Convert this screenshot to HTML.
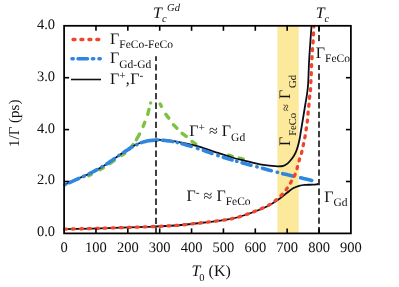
<!DOCTYPE html>
<html><head><meta charset="utf-8"><title>chart</title>
<style>
html,body{margin:0;padding:0;background:#fff;}
body{width:399px;height:287px;overflow:hidden;}
svg{display:block;will-change:transform;}
text{font-family:"Liberation Serif",serif;fill:#111;text-rendering:geometricPrecision;}
.ax text{font-size:14.5px;}
.lab{font-size:16px;}
.sub{font-size:11.5px;}
.ss{font-size:10.5px;}
</style></head><body>
<svg width="399" height="287" viewBox="0 0 399 287">
<rect x="0" y="0" width="399" height="287" fill="#fff"/>
<rect x="277.4" y="25.8" width="21.3" height="207.6" fill="#fce99c"/>
<!-- curves -->
<g fill="none" stroke-linecap="butt" stroke-linejoin="round">
<path d="M150.6,103 l0.01,0 M148.98,109.45 L147.72,114.35 M144.76,122.38 L143.14,126.42 M139.65,133.97 L136.35,139.73 M133.13,144.52 L129.07,149.48 M160.14,103.98 L161.46,106.32 M165.84,114.35 L168.76,118.15 M173.44,124.86 L176.96,128.14 M182.15,133.33 L186.25,136.47 M192.02,141.53 L195.88,144.07 M88.70,175.69 L90.10,175.00 L91.30,174.39 M100.00,169.70 L101.56,168.80 L102.77,168.09 L103.40,167.72 M109.80,163.63 L111.00,162.79 L112.01,162.08 L112.99,161.39 L114.30,160.45 M121.70,155.37 L122.86,154.59 L124.19,153.71 L124.80,153.32 M228.70,155.17 L230.24,155.64 L231.49,156.02 L232.30,156.26 M239.20,158.09 L240.66,158.45 L242.23,158.83 L243.30,159.08 " stroke="#7fc241" stroke-width="3.4" stroke-linecap="round"/>
<path d="M64.10,184.90 C65.92,184.08 70.67,181.95 75.00,180.00 C79.33,178.05 85.08,175.72 90.10,173.20 C95.12,170.68 100.60,167.65 105.10,164.90 C109.60,162.15 113.68,159.02 117.10,156.70 C120.52,154.38 122.68,152.88 125.60,151.00 C128.52,149.12 131.35,147.03 134.60,145.40 C137.85,143.77 141.53,142.13 145.10,141.20 C148.67,140.27 152.68,139.98 156.00,139.80 C159.32,139.62 162.00,139.87 165.00,140.10 C168.00,140.33 171.00,140.72 174.00,141.20 C177.00,141.68 180.33,142.47 183.00,143.00 C185.67,143.53 187.17,143.77 190.00,144.40 C192.83,145.03 195.67,145.48 200.00,146.80 C204.33,148.12 210.65,150.52 216.00,152.30 C221.35,154.08 227.27,156.08 232.10,157.50 C236.93,158.92 240.35,159.65 245.00,160.80 C249.65,161.95 255.83,163.60 260.00,164.40 C264.17,165.20 267.08,165.28 270.00,165.60 C272.92,165.92 275.25,166.27 277.50,166.30 C279.75,166.33 281.75,166.33 283.50,165.80 C285.25,165.27 286.48,164.43 288.00,163.10 C289.52,161.77 291.33,159.55 292.60,157.80 C293.87,156.05 294.73,154.48 295.60,152.60 C296.47,150.72 297.13,148.77 297.80,146.50 C298.47,144.23 299.05,141.75 299.60,139.00 C300.15,136.25 300.23,135.25 301.10,130.00 C301.97,124.75 303.68,114.50 304.80,107.50 C305.92,100.50 307.10,95.42 307.80,88.00 C308.50,80.58 308.63,69.83 309.00,63.00 C309.37,56.17 309.58,53.12 310.00,47.00 C310.42,40.88 311.25,29.75 311.50,26.30" stroke="#0d0d1a" stroke-width="1.8"/>
<path d="M64.10,229.20 C70.08,229.05 86.35,228.70 100.00,228.30 C113.65,227.90 133.50,227.27 146.00,226.80 C158.50,226.33 166.00,226.13 175.00,225.50 C184.00,224.87 192.50,223.82 200.00,223.00 C207.50,222.18 214.58,221.33 220.00,220.60 C225.42,219.87 228.33,219.53 232.50,218.60 C236.67,217.67 240.83,216.35 245.00,215.00 C249.17,213.65 253.37,212.17 257.50,210.50 C261.63,208.83 266.13,206.95 269.80,205.00 C273.47,203.05 276.62,200.83 279.50,198.80 C282.38,196.77 284.83,194.55 287.10,192.80 C289.37,191.05 291.10,189.47 293.10,188.30 C295.10,187.13 297.10,186.37 299.10,185.80 C301.10,185.23 302.85,185.08 305.10,184.90 C307.35,184.72 310.70,184.78 312.60,184.70 C314.50,184.62 315.50,184.57 316.50,184.40 C317.50,184.23 318.25,183.82 318.60,183.70" stroke="#0d0d1a" stroke-width="1.8"/>
<path d="M65.00,184.60 L65.10,184.55 M69.12,182.74 L70.65,182.06 L72.27,181.33 L73.91,180.59 L75.55,179.85 L76.69,179.35 L77.87,178.83 L78.68,178.48 M83.42,176.42 L84.28,176.03 M89.02,173.83 L90.10,173.30 L91.36,172.66 L92.64,172.00 L93.93,171.33 L95.22,170.64 L96.51,169.94 L97.18,169.58 M101.92,166.90 L102.28,166.69 M106.72,163.98 L107.86,163.24 L108.92,162.53 L109.97,161.81 L111.00,161.09 L112.01,160.38 L112.99,159.69 L114.28,158.77 M118.92,155.56 L118.98,155.52 M123.62,152.39 L124.89,151.56 L125.96,150.87 L127.05,150.16 L128.14,149.44 L129.24,148.72 L130.35,148.02 L131.47,147.32 L132.18,146.90 M136.85,144.53 L136.95,144.49 M141.42,142.65 L142.86,142.15 L144.21,141.74 L145.55,141.39 L146.92,141.09 L148.31,140.84 L149.71,140.63 L151.11,140.47 L152.49,140.33 L153.85,140.23 L155.16,140.15 L156.41,140.08 L157.68,140.05 M162.42,140.26 L163.89,140.39 L165.38,140.54 L166.88,140.70 L168.38,140.88 L169.88,141.09 L171.38,141.33 L172.78,141.57 M177.35,142.52 L177.45,142.55 M182.02,143.73 L183.44,144.12 L184.85,144.52 L186.34,144.95 L187.89,145.41 L189.46,145.88 L191.04,146.36 L191.18,146.41 M197.42,148.39 L197.98,148.58 M203.32,150.42 L204.58,150.86 L205.83,151.29 L207.08,151.73 L208.33,152.17 L209.58,152.61 L210.83,153.05 L211.98,153.45 M217.82,155.45 L218.18,155.57 M223.32,157.27 L224.58,157.67 L225.83,158.06 L227.08,158.45 L228.33,158.83 L229.58,159.21 L230.83,159.58 L232.08,159.95 M236.62,161.27 L236.98,161.37 M242.12,162.81 L243.33,163.14 L244.58,163.49 L245.84,163.83 L247.13,164.18 L248.44,164.54 L249.75,164.89 L250.98,165.22 M256.82,166.79 L257.18,166.89 M262.42,168.31 L264.09,168.77 L265.28,169.09 L266.53,169.43 L267.84,169.79 L269.21,170.16 L270.60,170.54 L271.28,170.72 M277.22,172.28 L277.58,172.37 M282.72,173.63 L284.02,173.94 L285.46,174.27 L286.91,174.61 L288.36,174.95 L289.83,175.29 L291.30,175.63 L292.77,175.98 L293.68,176.19 M300.62,177.82 L302.63,178.29 L304.41,178.70 L306.14,179.11 L307.80,179.49 L309.35,179.85 L310.75,180.18 L311.78,180.42 " stroke="#2f86de" stroke-width="3.6" stroke-linecap="round"/>
<path d="M64.60,229.20 C70.50,229.05 86.43,228.70 100.00,228.30 C113.57,227.90 133.50,227.27 146.00,226.80 C158.50,226.33 166.00,226.13 175.00,225.50 C184.00,224.87 192.50,223.82 200.00,223.00 C207.50,222.18 214.58,221.33 220.00,220.60 C225.42,219.87 228.33,219.53 232.50,218.60 C236.67,217.67 240.83,216.38 245.00,215.00 C249.17,213.62 253.37,212.03 257.50,210.30 C261.63,208.57 266.75,206.27 269.80,204.60 C272.85,202.93 273.80,201.93 275.80,200.30 C277.80,198.67 279.97,196.72 281.80,194.80 C283.63,192.88 285.22,191.02 286.80,188.80 C288.38,186.58 289.95,183.83 291.30,181.50 C292.65,179.17 293.88,177.17 294.90,174.80 C295.92,172.43 296.67,169.75 297.40,167.30 C298.13,164.85 298.60,162.55 299.30,160.10 C300.00,157.65 300.92,155.18 301.60,152.60 C302.28,150.02 302.83,147.23 303.40,144.60 C303.97,141.97 304.52,139.47 305.00,136.80 C305.48,134.13 305.90,131.30 306.30,128.60 C306.70,125.90 307.10,123.23 307.40,120.60 C307.70,117.97 307.85,115.40 308.10,112.80 C308.35,110.20 308.65,107.63 308.90,105.00 C309.15,102.37 309.33,99.58 309.60,97.00 C309.87,94.42 310.10,96.20 310.50,89.50 C310.90,82.80 311.57,64.80 312.00,56.80 C312.43,48.80 312.80,46.50 313.10,41.50 C313.40,36.50 313.68,29.25 313.80,26.80" stroke="#f1452b" stroke-width="3.3" stroke-dasharray="2 5.95" stroke-linecap="round"/>
</g>
<!-- dashed verticals -->
<g stroke="#111" stroke-width="1.6" stroke-dasharray="6.3 3.3">
<line x1="156" y1="25.8" x2="156" y2="233.4"/>
<line x1="319" y1="25.400000000000002" x2="319" y2="233.4"/>
</g>
<!-- legend -->
<rect x="108" y="26.6" width="66" height="29.6" fill="#fff"/>
<g fill="none">
<path d="M73,39.5h2 M80.9,39.5h2 M88.9,39.5h2 M96.8,39.5h2" stroke="#f1452b" stroke-width="3.3" stroke-linecap="round"/>
<path d="M71.9,58.7h1.4 M78,58.7h9.5 M92.4,58.7h1.4 M98.9,58.7h1.4" stroke="#2f86de" stroke-width="3.4" stroke-linecap="round"/>
<line x1="71" y1="79.5" x2="101" y2="79.5" stroke="#111" stroke-width="1.6"/>
</g>
<text class="lab" x="110" y="43.8">Γ<tspan class="sub" dy="4.5">FeCo-FeCo</tspan></text>
<text class="lab" x="110" y="63.3">Γ<tspan class="sub" dy="4.5">Gd-Gd</tspan></text>
<text class="lab" x="110" y="84">Γ<tspan class="sub" dy="-5">+</tspan><tspan dy="5">,</tspan><tspan dx="0.4">Γ</tspan><tspan class="sub" dy="-5">-</tspan></text>
<!-- annotations -->
<text class="lab" x="189.3" y="136">Γ<tspan class="sub" dy="-5">+</tspan><tspan dy="5"> ≈ Γ</tspan><tspan class="sub" dy="4.5">Gd</tspan></text>
<text class="lab" x="186.5" y="200.7">Γ<tspan class="sub" dy="-5">-</tspan><tspan dy="5"> ≈ Γ</tspan><tspan class="sub" dy="4.5">FeCo</tspan></text>
<rect x="315.8" y="41.5" width="34" height="23.5" fill="#fff"/>
<text class="lab" x="315.8" y="57.6">Γ<tspan class="sub" dy="4.5">FeCo</tspan></text>
<text class="lab" x="324.3" y="201.8">Γ<tspan class="sub" dy="4.5">Gd</tspan></text>
<g transform="translate(290.4,146.6) rotate(-90)">
<text class="lab" x="0.5" y="0">Γ</text>
<text x="10.8" y="5.6" style="font-size:10.6px">FeCo</text>
<text x="35.6" y="-0.8" style="font-size:12.5px">≈</text>
<text class="lab" x="47.7" y="0">Γ</text>
<text x="58.6" y="5.6" style="font-size:10.6px">Gd</text>
</g>
<!-- axes -->
<rect x="64.1" y="25.8" width="286.80" height="207.60" fill="none" stroke="#000" stroke-width="1.75"/>
<g stroke="#000" stroke-width="1.6"><line x1="95.97" y1="233.40" x2="95.97" y2="228.40"/><line x1="95.97" y1="25.80" x2="95.97" y2="30.80"/><line x1="127.83" y1="233.40" x2="127.83" y2="228.40"/><line x1="127.83" y1="25.80" x2="127.83" y2="30.80"/><line x1="159.70" y1="233.40" x2="159.70" y2="228.40"/><line x1="159.70" y1="25.80" x2="159.70" y2="30.80"/><line x1="191.57" y1="233.40" x2="191.57" y2="228.40"/><line x1="191.57" y1="25.80" x2="191.57" y2="30.80"/><line x1="223.43" y1="233.40" x2="223.43" y2="228.40"/><line x1="223.43" y1="25.80" x2="223.43" y2="30.80"/><line x1="255.30" y1="233.40" x2="255.30" y2="228.40"/><line x1="255.30" y1="25.80" x2="255.30" y2="30.80"/><line x1="287.17" y1="233.40" x2="287.17" y2="228.40"/><line x1="287.17" y1="25.80" x2="287.17" y2="30.80"/><line x1="319.03" y1="233.40" x2="319.03" y2="228.40"/><line x1="319.03" y1="25.80" x2="319.03" y2="30.80"/><line x1="64.10" y1="181.50" x2="69.10" y2="181.50"/><line x1="350.90" y1="181.50" x2="345.90" y2="181.50"/><line x1="64.10" y1="129.60" x2="69.10" y2="129.60"/><line x1="350.90" y1="129.60" x2="345.90" y2="129.60"/><line x1="64.10" y1="77.70" x2="69.10" y2="77.70"/><line x1="350.90" y1="77.70" x2="345.90" y2="77.70"/></g>
<g class="ax"><text x="64.10" y="251.6" text-anchor="middle">0</text><text x="95.97" y="251.6" text-anchor="middle">100</text><text x="127.83" y="251.6" text-anchor="middle">200</text><text x="159.70" y="251.6" text-anchor="middle">300</text><text x="191.57" y="251.6" text-anchor="middle">400</text><text x="223.43" y="251.6" text-anchor="middle">500</text><text x="255.30" y="251.6" text-anchor="middle">600</text><text x="287.17" y="251.6" text-anchor="middle">700</text><text x="319.03" y="251.6" text-anchor="middle">800</text><text x="350.90" y="251.6" text-anchor="middle">900</text><text x="55" y="28.70" text-anchor="end">4.0</text><text x="55" y="80.60" text-anchor="end">3.0</text><text x="55" y="132.50" text-anchor="end">4.0</text><text x="55" y="184.40" text-anchor="end">2.0</text><text x="55" y="236.30" text-anchor="end">0.0</text></g>
<!-- top labels -->
<text class="lab" x="153" y="18" font-style="italic">T<tspan class="ss" dy="4.2">c</tspan><tspan class="ss" dy="-11.7" dx="0.5">Gd</tspan></text>
<text class="lab" x="315.7" y="18" font-style="italic">T<tspan class="ss" dy="4.2">c</tspan></text>
<!-- axis titles -->
<text class="lab" x="191.6" y="276"><tspan font-style="italic">T</tspan><tspan class="ss" dy="4.8" dx="-1.2">0</tspan><tspan dy="-4.8"> (K)</tspan></text>
<text class="ax" transform="translate(19,147) rotate(-90)" style="font-size:15px">1/Γ (ps)</text>
</svg>
</body></html>
